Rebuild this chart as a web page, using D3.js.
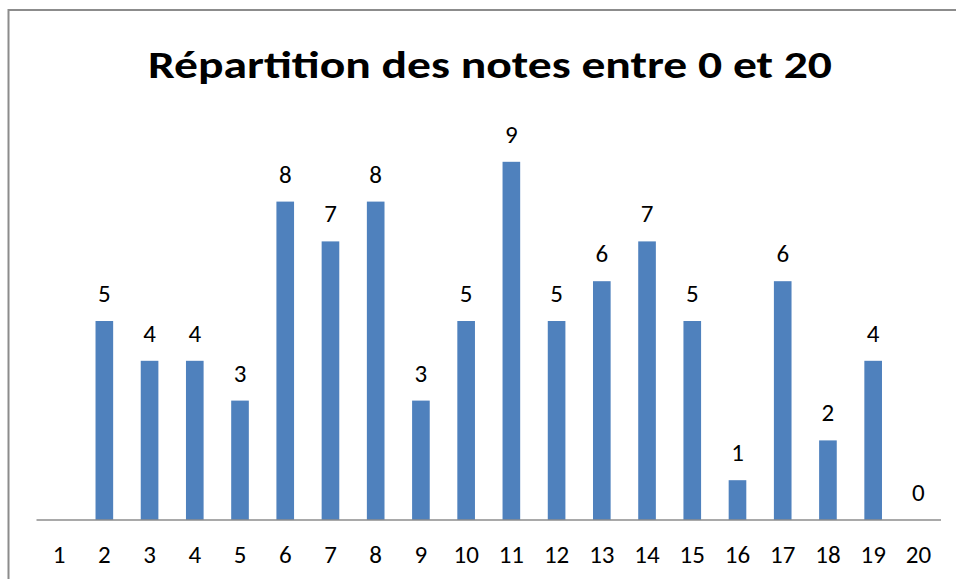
<!DOCTYPE html>
<html>
<head>
<meta charset="utf-8">
<script src="https://cdn.jsdelivr.net/npm/d3@7"></script>
<style>
  html, body { margin: 0; padding: 0; background: #fff; }
  svg { display: block; }
</style>
</head>
<body>
<script>
const title = "Répartition des notes entre 0 et 20";
const categories = ["1","2","3","4","5","6","7","8","9","10","11","12","13","14","15","16","17","18","19","20"];
const values = [null,5,4,4,3,8,7,8,3,5,9,5,6,7,5,1,6,2,4,0];

const W = 956, H = 579;
const svg = d3.select("body").append("svg").attr("width", W).attr("height", H);

// frame (left and top edges visible)
svg.append("path")
  .attr("d", `M8.5,${H} L8.5,10 L${W},10`)
  .attr("fill", "none").attr("stroke", "#8c8c8c").attr("stroke-width", 2);

const x = d3.scaleBand().domain(categories).range([36.5, 941]).paddingInner(0.61).paddingOuter(0.305);
const y = d3.scaleLinear().domain([0, 10]).range([520, 122]);

const font = "Calibri, Carlito, 'Open Sans', 'Liberation Sans', sans-serif";

// title
svg.append("text")
  .attr("x", 490).attr("y", 78)
  .attr("text-anchor", "middle")
  .attr("font-family", font)
  .attr("font-weight", "bold")
  .attr("font-size", 38)
  .attr("fill", "#000")
  .attr("textLength", 684)
  .attr("lengthAdjust", "spacingAndGlyphs")
  .text(title);

const data = categories.map((c, i) => ({ c, v: values[i] }));

// bars
svg.append("g").selectAll("rect")
  .data(data.filter(d => d.v != null && d.v > 0))
  .join("rect")
  .attr("x", d => x(d.c))
  .attr("width", x.bandwidth())
  .attr("y", d => y(d.v))
  .attr("height", d => y(0) - y(d.v))
  .attr("fill", "#4f81bd");

// value labels
svg.append("g").selectAll("text")
  .data(data.filter(d => d.v != null))
  .join("text")
  .attr("x", d => x(d.c) + x.bandwidth() / 2)
  .attr("y", d => y(d.v) - 19)
  .attr("text-anchor", "middle")
  .attr("font-family", font)
  .attr("font-size", 25)
  .attr("fill", "#000")
  .text(d => d.v);

// x axis
const xAxis = d3.axisBottom(x).tickSize(0).tickPadding(0);
const ax = svg.append("g").attr("transform", `translate(0,520)`).call(xAxis);
ax.select(".domain").attr("stroke", "#8c8c8c").attr("stroke-width", 1.5).attr("d", "M36.5,0H941");
ax.selectAll("text")
  .attr("font-family", font)
  .attr("font-size", 25)
  .attr("fill", "#000")
  .attr("dy", "0")
  .attr("y", 43);
</script>
</body>
</html>
